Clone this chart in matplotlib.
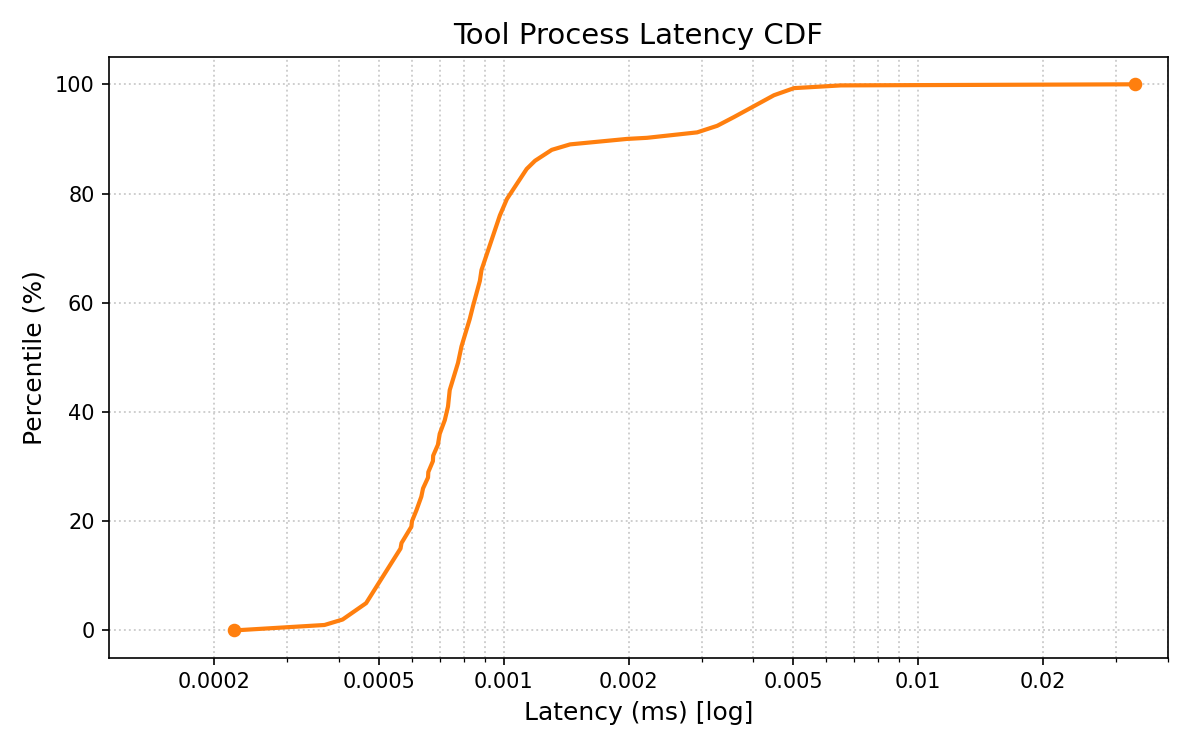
import numpy as np
import matplotlib
matplotlib.use('Agg')
import matplotlib.pyplot as plt
from matplotlib.ticker import LogLocator, FuncFormatter, NullFormatter

# Percentile vs latency
percentiles = [0, 1, 2, 5, 15, 16, 19, 20, 22, 24.5, 26, 28, 29, 31, 32, 34, 36,
               38.5, 41, 44, 49, 52, 57, 59.5, 64, 66, 76, 79, 84.5, 86, 88, 89,
               90, 90.2, 91.2, 92.4, 94, 96, 98, 99.3, 99.8, 100]
latency_ms = [0.000223, 0.000369, 0.000408, 0.000465, 0.000563, 0.000566,
              0.000598, 0.000600, 0.000615, 0.000632, 0.000638, 0.000656,
              0.000657, 0.000674, 0.000675, 0.000693, 0.000700, 0.000720,
              0.000733, 0.000740, 0.000775, 0.000790, 0.000827, 0.000843,
              0.000875, 0.000883, 0.000978, 0.001017, 0.001135, 0.001189,
              0.001305, 0.001445, 0.001982, 0.002215, 0.002928, 0.003273,
              0.003592, 0.004015, 0.004487, 0.005017, 0.006510, 0.033340]

fig, ax = plt.subplots(figsize=(8, 5), dpi=150)

ax.plot(latency_ms, percentiles, color='#ff7f0e', linewidth=2,
        marker='o', markersize=5.5, markevery=[0, len(latency_ms) - 1])

ax.set_xscale('log')
ax.set_xlim(min(latency_ms) * 0.5, max(latency_ms) * 1.2)
ax.set_ylim(-5, 105)

ax.xaxis.set_major_locator(LogLocator(base=10, subs=(1, 2, 5)))
ax.xaxis.set_major_formatter(FuncFormatter(lambda v, _: f"{v:g}"))
ax.xaxis.set_minor_locator(LogLocator(base=10, subs=(3, 4, 6, 7, 8, 9)))
ax.xaxis.set_minor_formatter(NullFormatter())

ax.grid(True, which='major', linestyle=':', color='#cccccc', linewidth=0.9)
ax.grid(True, which='minor', axis='x', linestyle=':', color='#cccccc', linewidth=0.9)

ax.set_title("Tool Process Latency CDF", fontsize=14)
ax.set_xlabel("Latency (ms) [log]", fontsize=12)
ax.set_ylabel("Percentile (%)", fontsize=12)
ax.tick_params(labelsize=10)

fig.subplots_adjust(left=0.091, right=0.973, top=0.924, bottom=0.123)
plt.savefig("out.png")
